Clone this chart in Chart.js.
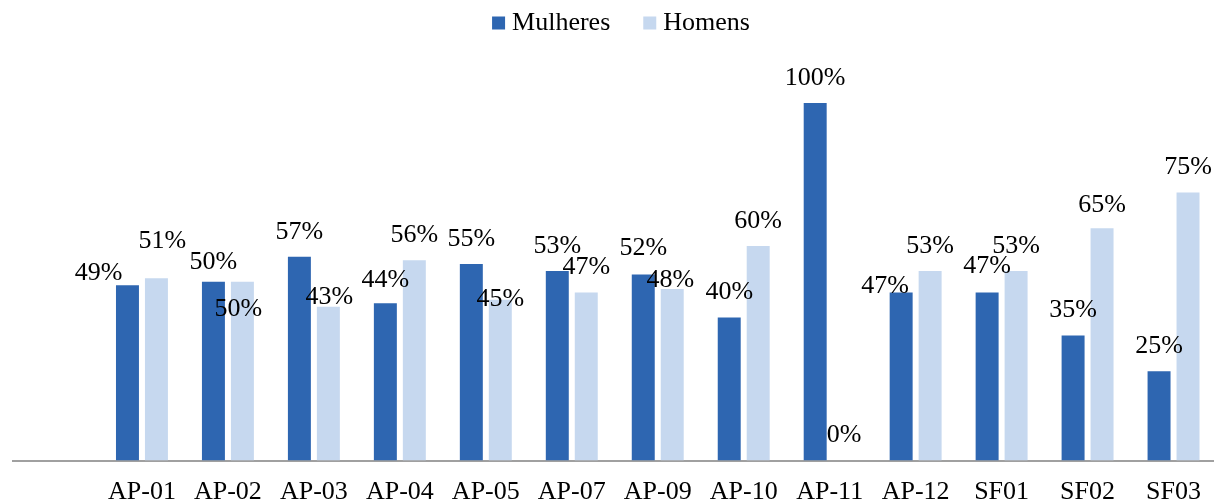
<!DOCTYPE html>
<html>
<head>
<meta charset="utf-8">
<script src="https://cdn.jsdelivr.net/npm/chart.js@4/dist/chart.umd.min.js"></script>
<style>
  html, body { margin: 0; padding: 0; background: #fff; overflow: hidden; }
  #wrap { position: relative; width: 1220px; height: 504px; }
</style>
</head>
<body>
<div id="wrap"><canvas id="grafico"></canvas></div>
<script>
// first slot is left empty, like in the original sheet
const categorias = ["", "AP-01", "AP-02", "AP-03", "AP-04", "AP-05", "AP-07", "AP-09", "AP-10", "AP-11", "AP-12", "SF01", "SF02", "SF03"];
const mulheres = [null, 49, 50, 57, 44, 55, 53, 52, 40, 100, 47, 47, 35, 25];
const homens = [null, 51, 50, 43, 56, 45, 47, 48, 60, 0, 53, 53, 65, 75];

// manual nudges of the data labels (dx, dy in px), as moved by hand in the original
const nudgeMulheres = [null, [-29, 13], [0, 5], [0, 0], [0, 2], [0, 0], [0, 0], [0, -1], [0, 0], [0, 0], [-16, 19], [0, -1], [0, 0], [0, 0]];
const nudgeHomens = [null, [6, -12], [-4, 52], [1, 15], [0, 0], [0, 25], [0, 0], [-2, 16], [0, 0], [0, 0], [0, 0], [0, 0], [0, 2], [0, 0]];

const fonte = "26px 'Liberation Serif', 'Times New Roman', serif";

const rotulosPlugin = {
  id: "rotulos",
  afterDatasetsDraw(chart) {
    const ctx = chart.ctx;
    ctx.save();
    ctx.font = fonte;
    ctx.fillStyle = "#000";
    ctx.textAlign = "center";
    ctx.textBaseline = "middle";
    const nudges = [nudgeMulheres, nudgeHomens];
    chart.data.datasets.forEach((ds, i) => {
      const meta = chart.getDatasetMeta(i);
      meta.data.forEach((bar, j) => {
        const v = ds.data[j];
        if (v === null || v === undefined) return;
        const n = nudges[i][j] || [0, 0];
        ctx.fillText(v + "%", bar.x + n[0], bar.y - 25 + n[1]);
      });
    });
    ctx.restore();
  },
};

// legend drawn by hand to get Excel's spacing
const legendaPlugin = {
  id: "legenda",
  afterDraw(chart) {
    const ctx = chart.ctx;
    ctx.save();
    ctx.font = fonte;
    ctx.textBaseline = "middle";
    const box = 13, gap = 7, espaco = 33;
    const itens = chart.data.datasets.map((ds) => ({ label: ds.label, cor: ds.backgroundColor, w: ctx.measureText(ds.label).width }));
    let total = 0;
    itens.forEach((it, k) => { total += box + gap + it.w + (k ? espaco : 0); });
    const centro = 621;
    let x = centro - total / 2;
    const y = 23;
    itens.forEach((it) => {
      ctx.fillStyle = it.cor;
      ctx.fillRect(x, y - box / 2, box, box);
      ctx.fillStyle = "#000";
      ctx.fillText(it.label, x + box + gap, y);
      x += box + gap + it.w + espaco;
    });
    ctx.restore();
  },
};

new Chart(document.getElementById("grafico"), {
  type: "bar",
  data: {
    labels: categorias,
    datasets: [
      { label: "Mulheres", data: mulheres, backgroundColor: "#2E66B1", borderWidth: 0, categoryPercentage: 0.674, barPercentage: 0.793 },
      { label: "Homens", data: homens, backgroundColor: "#C6D8EF", borderWidth: 0, categoryPercentage: 0.674, barPercentage: 0.793 },
    ],
  },
  options: {
    responsive: true,
    maintainAspectRatio: false,
    animation: false,
    layout: { padding: { top: 103, left: 13, right: 0, bottom: -20.5 } },
    plugins: {
      legend: { display: false },
      tooltip: { enabled: false },
    },
    scales: {
      y: { display: false, min: 0, max: 100 },
      x: {
        grid: { display: false, drawTicks: false },
        border: { display: true, color: "#A0A0A0", width: 2 },
        ticks: {
          color: "#000",
          padding: 19,
          font: { family: "'Liberation Serif', 'Times New Roman', serif", size: 26, lineHeight: 1 },
          autoSkip: false,
          maxRotation: 0,
        },
      },
    },
  },
  plugins: [rotulosPlugin, legendaPlugin],
});
</script>
</body>
</html>
